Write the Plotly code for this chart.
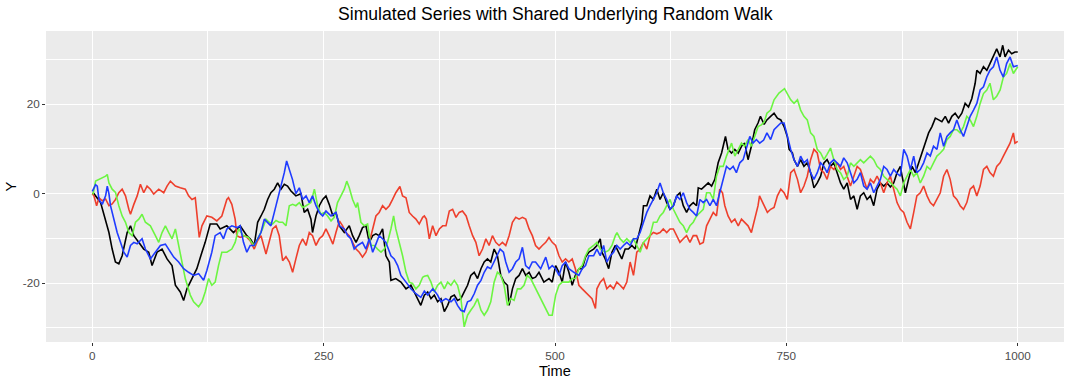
import plotly.graph_objects as go

# Values (time, value) for each series
black_points = [
    (0,0),(1.8,0),(9,-2),(14.4,-5.7),(18,-8.7),(21.5,-12.4),(25,-15.3),(28.7,-15.7),(32.3,-13.9),(37.7,-8.7),
    (41.3,-7.2),(44.9,-9.4),(50.3,-10.9),(55.6,-12.4),(61,-13.1),(64.6,-16.1),(70,-13.1),(75.4,-12.4),(80.8,-14.6),
    (86.2,-16.1),(89.8,-20.5),(95.1,-22),(98.7,-23.9),(102.3,-21.3),(107.7,-19),(113,-16.8),(118.5,-13.1),(122,-10.9),
    (127.4,-6.8),(134.6,-6.8),(138.2,-7.9),(145.4,-7.2),(152.6,-8.7),(159.8,-7.2),(167,-9.4),(171,-10.2),
    (175,-11.6),(178.7,-6.4),(182.3,-5),(185.9,-3.5),(189.5,-1.3),(193,0.2),(196.7,1),(200.3,2.4),(203.9,1),(207.5,2.1),
    (211,1.7),(214.7,0.6),(220,-0.5),(225.5,0),(229,-4.2),(232.7,-3.5),(236.3,-5.7),(238,-8.7),(241.7,-5),(245.3,-2.7),
    (249,-1.3),(252.5,-0.5),(256,-2.4),(260,-5),(263.3,-4.2),(267,-7.2),(272.3,-8.7),(277.7,-7.2),(281.3,-9.4),(285,-10.9),
    (288.5,-9.4),(292,-7.6),(295.7,-7.2),(299.3,-10.9),(303,-9.4),(306.5,-9),(310,-9.4),(313.7,-7.9),(317.3,-13.9),
    (321,-15.3),(322.7,-19.4),(328,-19),(333.5,-19.8),(339,-21.3),(344.3,-20.5),(348,-22),(351.5,-23.5),(355,-25),
    (358.8,-22.7),(362.4,-22),(366,-23.5),(369.6,-22.7),(373.2,-24.2),(376.8,-23.5),(380.4,-26.4),(384,-25),(387.6,-23.1),
    (391.2,-22.7),(394.7,-23.9),(398.3,-23.5),(401.9,-22),(405.5,-20.5),(409,-18.3),(412.7,-17.6),(416.3,-19),(420,-16.8),
    (423.5,-15.3),(427,-14.6),(430.6,-15.3),(434.2,-12.4),(437.8,-13.9),(441.4,-18.3),(445,-19.8),(448.6,-20.5),(450.4,-25),
    (454,-21.3),(457.6,-19),(461.2,-18.3),(464.8,-16.8),(468.4,-18.3),(472,-17.6),(475.5,-19),(479,-18.7),(482.7,-17.6),
    (488,-19.8),(493.5,-19),(497,-19.8),(500.7,-16.1),(504.3,-17.6),(507.8,-19.8),(511.4,-15.3),(515,-17.6),(518.6,-20.5),
    (522,-18.3),(525.8,-16.8),(529.4,-16.8),(533,-14.2),(536.6,-13.1),
    (541.7,-12.4),(545.3,-11.6),(548.9,-10.1),(550.7,-13.1),(554.3,-14.6),(558,-16.8),(561.5,-13.1),(565.2,-11.6),
    (568.6,-13.1),(572.2,-14.6),(575.8,-12.4),(579.4,-12.4),(583,-11.6),(586.6,-12.4),(590.2,-9.4),(593.8,-6.4),
    (595.6,-2.7),(599.2,-2.7),(602.7,-0.5),(606.3,-1.3),(610,1),(613.5,-1.3),(617,0.2),(620.7,-2),(624.3,-3.5),
    (627.9,-2.7),(631.5,-0.5),(635,0.2),(638.6,-2.7),(642.2,-4.2),(645.8,-2.7),(649.4,-2),(653,-2.7),(654.8,1.3),
    (658.4,1),(662,1.7),(665.6,2.4),(669.2,1.7),(672.7,3.2),(676.3,6.9),(680,9.1),(684.2,12.8),(687,9.9),(690.7,9.1),
    (694.3,9.9),(698,9.1),(701.5,10.6),(705,11.3),(708.6,7.6),(712.2,10.6),(715.8,14.3),(719.4,15.8),(722,17.3),
    (726,15.5),(729,16.5),(733,17.3),(736.7,18),(740.3,16.9),(744,16.5),(747.5,15),(751,12.8),(753,9.9),(756.5,9.1),
    (758.3,7.6),(762,6.1),(765.4,7.6),(769,6.1),(772.6,6.9),(776.2,4.7),(779.8,1.3),(783.4,2.4),(787,3.9),(790.6,6.9),
    (794,7.6),(797.7,6.1),(801.3,6.9),(805,4.7),(808.5,2.4),(812,1),(815.7,2.4),(819.3,-1.3),(822.9,-0.5),(826.5,-3.5),
    (830,-0.5),(833.6,0.2),(837.2,-1.3),(840.8,-0.5),(844.4,-2.7),(848,1),(851.6,2.4),(855.2,1.7),(858.8,2.4),(862.4,1.5),
    (866,2.4),(869.6,4.7),(873.2,6.1),(875,4),(878.6,0.2),(882,3.2),(885.8,6.1),(889.4,4.7),(893,6.9),(896.5,9.1),
    (900,11.3),(903.7,13.6),(907.3,15),(911,16.9),(914.6,16.5),(918,16.1),(921.7,17.3),(925.3,15.8),(928.8,17.3),
    (932.4,18),(936,16.9),(939.6,18),(943.2,20.2),(946.8,19.4),(950.4,21.3),(954,24.7),(955.8,27.6),(959.4,26.9),
    (963,28.4),(966.6,27.6),(970,29.1),(973.7,30.6),(977.3,32.4),(980.9,30.6),(983.8,33.2),(986.3,30.6),(990,32.1),
    (993.5,31.3),(997,31.7),(1000,31.7),
]

red_points = [
    (0,0),(1.8,-0.5),(4.7,-2.7),(7.2,-0.9),(10.8,-1.6),(14.4,-1.2),(18,-2.7),(21.5,-2.3),(25.1,-1.3),(28.7,0.2),
    (32.3,1),(35.9,-0.5),(39.5,-3.5),(41.3,-4.6),(44.9,-2.4),(48.5,-0.5),(52,2.1),(55.6,0.2),(59.2,1.7),(62.8,1),
    (66.4,-0.1),(71.8,1),(77.2,0.2),(80.8,1.7),(84.4,2.8),(89.8,1.7),(95.1,1.3),(100.5,1),(104.1,-0.5),(107.7,-1.3),
    (111.3,-0.9),(113,-5),(115.6,-9.8),(118.5,-7.2),(123.8,-5),(129.2,-5.3),(134.6,-6.1),(140,-5),(145.4,-1.3),
    (147.2,-0.9),(150.8,-2.4),(154.4,-5.7),(156.2,-9.4),(159.8,-9.8),(165.2,-9.4),(170.6,-10.5),
    (175,-12.4),(178.7,-10.5),(182.3,-9.4),(187.7,-13.5),(191.2,-10.9),(194.8,-7.9),(198.5,-7.2),(202,-9.4),(205.7,-15),
    (209.3,-14.1),(213,-15.3),(216.5,-17.6),(220,-14.6),(223.7,-11.6),(227.3,-10.1),(231,-11.6),(234.5,-8.7),(238,-9.4),
    (241.7,-11.6),(245.3,-10.1),(249,-9.4),(252.5,-7.9),(256,-9.4),(260,-11.3),(263.3,-8.7),(267,-6.1),(270.5,-7.2),
    (274,-8.7),(277.7,-9.4),(281.3,-10.9),(285,-12.4),(288.5,-13.1),(292,-14.2),(295.7,-13.1),(299.3,-10.9),(303,-7.9),
    (306.5,-5),(310,-4.2),(313.7,-2.7),(317.3,-3.5),(321,-2.7),(324.5,-1.3),(328,0.2),(332.4,1.6),(335.3,-0.5),(339,-0.9),
    (342.5,-4.2),(346,-5),(349.7,-5.7),(353.3,-6.8),(357,-5.3),
    (358.8,-5),(361,-5.7),(364.2,-10.1),(367.8,-7.2),(371.4,-9.4),(375,-7.9),(378.6,-7.2),(382.2,-7.2),(385.8,-3.9),
    (389.4,-3.5),(393,-5.3),(396.5,-4.2),(400,-3.9),(404,-5),(407.3,-7.2),(411,-9.4),(414.5,-10.9),(418,-13.9),
    (421.7,-12.4),(425.3,-10.1),(428.8,-11.6),(432.4,-9.4),(436,-10.9),(439.6,-11.6),(443.2,-10.9),(446.8,-11.6),
    (450.4,-9.4),(454,-6.4),(457.6,-5.3),(461.2,-5.7),(464.8,-5.3),(468.4,-5.7),(472,-7.9),(475.5,-9.4),(479,-11.6),
    (482.7,-12.4),(486.3,-11.6),(490,-10.9),(493.5,-9.8),(497,-10.9),(500.7,-11.6),(504.3,-13.9),(507.8,-15.3),
    (511.4,-14.6),(515,-15.3),(518.6,-14.6),(522,-16.8),(525.8,-20.5),(529.4,-21.3),(533,-22),(536.6,-22.7),
    (540,-23.5),(543.7,-25.7),(545.3,-21.3),(548.9,-19.8),(552.5,-19),(556,-21.3),(559.7,-20.5),(563.3,-21.3),
    (566.8,-19.8),(570.4,-20.5),(574,-21.3),(577.6,-19.8),(581.2,-15.3),(584.8,-18.3),(588.4,-13.1),(592,-12.4),
    (595.6,-10.9),(599.2,-12.4),(602.7,-9.4),(606.3,-8.7),(610,-9),(613.5,-8.7),(617,-7.9),(620.7,-8.7),(624.3,-7.9),
    (627.9,-7.9),(631.5,-9.4),(635,-10.9),(638.6,-10.1),(642.2,-9.4),(645.8,-10.9),(649.4,-9.4),(653,-9.4),(656.6,-11.3),
    (660.2,-10.9),(663.8,-7.2),(667.4,-5.7),(671,-4.2),(674.5,-5),(678,1),(681,0.2),(683.5,-2.7),(687,-5),(690.7,-6.4),
    (694.3,-5.7),(698,-7.2),(701.5,-5.7),(705,-6.4),(708.6,-7.2),(712.2,-8.7),(715.8,-5.7),(719.4,-2.7),(721,-0.5),
    (726,-2.7),(729.5,-4.2),(733,-3.5),(736.7,-3.1),(740.3,-0.5),(744,1),(747.5,0.2),(751,-1.3),(754.7,4.7),(758.3,5.4),
    (762,3.2),(765.4,0.2),(769,1.7),(772.6,3.9),(776.2,7.6),(779.8,9.9),(783.4,9.1),(787,5.4),(790.6,4.7),(794,3.2),
    (797.7,6.1),(801.3,5.4),(805,6.9),(808.5,5.4),(812,6.1),(815.7,3.9),(819.3,1.7),(822.9,3.9),(826.5,6.1),(830,5.4),
    (833.6,3.2),(837.2,1),(840.8,3.2),(844.4,2.4),(848,3.9),(851.6,2.4),(855.2,0.2),(858.8,2.4),(862.4,3.9),
    (866,1),(869.6,-2),(873.2,-3.5),(876.8,-4.2),(880.4,-6.4),(884,-7.9),(887.6,-4.2),(891,-0.5),(894.7,0.2),(898.3,1.7),
    (902,-0.5),(905.5,-2),(909,-2.7),(912.7,-1.3),(916.3,0.2),(919.9,3.9),(923.5,5.4),(927,3.2),(930.6,-0.5),(934.2,-1.3),
    (937.8,-2.7),(941.4,-3.5),(945,-2),(948.6,1),(952.2,1.7),(955.8,-0.5),(959.4,1.7),(963,5.4),(966.6,6.1),(970,4.7),
    (973.7,3.9),(977.3,6.1),(980.9,6.9),(984.5,8.4),(988,9.9),(991.7,11.3),(995.3,13.6),(997,11.3),(1000,11.7),
]

green_points = [
    (0,0),(1,0),(3.6,2.8),(7.2,3.2),(10.8,3.6),(14.4,3.9),(16.2,4.3),(18,2.4),(21.5,1),(25.1,0.3),(28.7,-2.7),
    (32.3,-5),(35.9,-6.4),(39.5,-8.7),(43.1,-9.4),(46.7,-6.4),(50.3,-5.7),(53.8,-4.6),(57.4,-6.4),(62.8,-7.2),
    (68.2,-9.4),(71.8,-10.9),(75.4,-8.7),(79,-7.2),(82.6,-8.7),(86.2,-10.1),(89.8,-7.9),(93.3,-11.6),(96.9,-15.3),
    (100.5,-19),(105.9,-22.7),(109.5,-24.2),(114.9,-25.3),(118.5,-24.2),(122,-22),(125.7,-19),(129.2,-20.5),
    (132.8,-19.8),(136.4,-16.1),(140,-13.1),(145.4,-13.1),(150.8,-12.4),(154.4,-10.9),(158,-7.9),(163.4,-9.4),
    (168.8,-9.8),(172,-10.9),
    (175,-11.6),(178.7,-10.1),(184,-7.9),(187.7,-5.7),(191.2,-6.4),(194.8,-6.8),(198.5,-6),(202,-6.4),(205.7,-6.4),
    (209.3,-7.2),(212.9,-2.7),(216.5,-2.4),(220,-2.7),(223.7,-2),(227.3,-3.1),(231,-2.7),(236.3,-2),(240,1),(243.5,-2.7),
    (247,-4.6),(250.7,-4.2),(254.3,-5),(258,-6.1),(261.5,-5.3),(265,-2),(268.7,-0.5),(272.3,1),(275,2.8),(277.7,1.3),
    (281.3,-1.3),(285,-3.1),(286.7,-2),(290.3,-6.4),(294,-7.2),(297.5,-6.8),(301,-11.6),(304.7,-11.6),(308.3,-12.4),
    (312,-13.1),(315.5,-12.4),(319,-10.9),(322.7,-7.9),(325.6,-5),(328,-7.9),(331.7,-10.9),(335.3,-13.9),(339,-17.6),
    (342.5,-19.8),(346,-20.1),(349.7,-21.3),(353.3,-20.5),(357,-18.7),
    (358.8,-18.5),(362.4,-18.3),(366,-19.8),(369.6,-22),(373.2,-20.5),(376.8,-19.8),(380.4,-21.3),(384,-19.8),
    (387.6,-20.5),(391.2,-19.4),(394.7,-20.5),(398.3,-23.5),(401.9,-29.8),(405.5,-27.2),(409,-26.1),(412.7,-25),
    (416.3,-23.5),(420,-26.1),(423.5,-27.2),(427,-26.1),(430.6,-24.2),(434.2,-19.8),(437.8,-17.6),(441.4,-18.3),
    (445,-20.5),(448.6,-25),(452.2,-23.5),(455.8,-23.9),(459.4,-21.3),(463,-21.3),(466.5,-20.5),(470,-18.3),
    (473.7,-19),(477.3,-20.5),(481,-22),(484.5,-23.5),(490,-25.7),(493.5,-27.2),(497,-27.2),(500.7,-22.7),
    (504.3,-20.5),(507.8,-19.8),(511.4,-19.8),(515,-19.8),(518.6,-19),(522,-19),(525.8,-16.8),(529.4,-16.1),
    (533,-13.9),(536.6,-12.4),
    (541.7,-11.6),(545.3,-10.9),(548.9,-12.4),(554.3,-13.1),(558,-12.7),(561.5,-11.6),(565.2,-9.4),(567,-8.7),
    (570.4,-10.1),(574,-10.9),(577.6,-10.1),(581.2,-10.9),(584.8,-10.1),(588.4,-11.6),(592,-13.1),(595.6,-10.9),
    (599.2,-10.1),(602.7,-9.4),(606.3,-6.4),(610,-6.4),(613.5,-5),(617,-4.2),(620.7,-2.7),(624.3,-1.3),(627.9,-3.5),
    (631.5,-5),(635,-6.4),(638.6,-7.2),(642.2,-8.7),(645.8,-7.2),(649.4,-6.4),(653,-5),(656.6,-4.2),(660.2,-3.5),
    (663.8,0.2),(667.4,0.2),(671,-1.3),(674.5,3.9),(678,6.1),(681.7,6.1),(685.3,8.4),(689,10.6),(690.8,11.3),
    (694.3,8.4),(698,9.9),(701.5,11.3),(705,10.6),(708.6,12.1),(712.2,10.6),(715.8,12.8),(719.4,15),(723,15.4),
    (726,16),(729,18),(733,18.7),(736.7,21),(742,22.5),(748,23.5),(752,22),(754.7,21),(758.3,20.2),(762,21),
    (765.4,18.7),(769,17.3),(772.6,16.5),(776.2,13.6),(779.8,12.8),(783.4,9.9),(787,9.1),(790.6,7.6),(794,8.8),
    (797.7,10.2),(801.3,7.6),(805,5.4),(808.5,4.7),(812,3.2),(815.7,3.9),(819.3,6.9),(822.9,6.1),(826.5,6.9),
    (830,7.6),(833.6,6.9),(837.2,7.6),(840.8,8.4),(844.4,7.6),(848,6.1),(851.6,5.4),(855.2,3.9),(858.8,3.2),(862.4,2.4),
    (866,1.7),(869.6,1),(873.2,-0.5),(876.8,2.4),(880.4,3.9),(884,5.4),(887.6,3.9),(891,4.7),(894.7,2.4),(898.3,3.9),
    (902,6.1),(905.5,5.4),(909,6.9),(912.7,8.4),(916.3,9.1),(919.9,9.9),(923.5,12.1),(927,12.8),(930.6,14.3),
    (934.2,14.3),(937.8,13.6),(941.4,15),(945,17.3),(948.6,16.5),(952.2,15),(955.8,17.3),(959.4,20.2),(963,22.4),
    (966.6,23.2),(970,24.7),(973.7,21),(977.3,21.8),(981,23.2),(984.5,26.1),(988,26.9),(991.7,29.1),(995.3,26.9),
    (1000,28.4),
]

blue_points = [
    (0,0.5),(1,1),(3.6,2),(5.4,1.7),(7.2,-1.3),(10.8,-2.4),(14.4,-0.5),(16.2,1.7),(18,0),(19.7,-2.7),(23.3,-6),
    (26.9,-8.7),(30.5,-10.9),(34.1,-13.1),(37.7,-14.2),(41.3,-11.6),(44.9,-10.9),(48.5,-11.2),(53.8,-10.1),
    (57.4,-12.4),(62.8,-14.6),(68.2,-13.1),(73.6,-11.6),(79,-11.3),(82.6,-12.4),(88,-14.2),(93.3,-15.3),(98.7,-16.8),
    (104.1,-17.6),(109.5,-18.3),(114.9,-17.9),(120.3,-19.4),(123.8,-17.2),(129.2,-13.1),(132.8,-9.4),(138.2,-8.7),
    (141.8,-10.1),(145.4,-7.9),(150.8,-7.2),(156.2,-7.6),(159.8,-7.2),(163.4,-10.9),(167,-13.1),(170.6,-11.6),
    (175,-11.6),(178.7,-10.1),(182.3,-8.7),(185.9,-5.7),(189.5,-6.4),(193,-7.2),(196.7,-4.2),(200.3,-1.3),(203.9,1.7),
    (207.5,4.7),(210,7.3),(213,5.4),(216.3,3.2),(220,0),(223.7,1.3),(227.3,-1.3),(231,-0.5),(234.5,-2),(238,-0.5),
    (241.7,-2.7),(245.3,-4.2),(249,-5),(252.5,-3.9),(258,-5),(263.3,-4.2),(267,-7.2),(272.3,-7.9),(276,-9.4),
    (279.5,-10.1),(283,-12.4),(286.7,-11.6),(292,-10.9),(295.7,-12.4),(299.3,-10.1),(303,-13.1),(306.5,-11.3),
    (310,-9.4),(313.7,-10.1),(317.3,-10.9),(322.7,-13.9),(326.3,-14.6),(330,-16.1),(333.5,-18.3),(339,-19.8),
    (344.3,-21.3),(349.7,-22.4),(355,-23.2),
    (358.8,-21.8),(362.4,-22.7),(368,-21.3),(373.2,-22.7),(376.8,-24.2),(382,-23.5),(387.6,-24.2),(391.2,-23.5),
    (394.7,-25),(398.3,-26.1),(401.9,-26.4),(405.5,-24.2),(409,-23.9),(412.7,-22.4),(416.3,-20.5),(420,-19.4),
    (423.5,-17.6),(427,-16.4),(430.6,-16.8),(434.2,-15.3),(437.8,-13.9),(440.7,-12.4),(444.3,-13.1),(446.8,-15.3),
    (450.4,-17.6),(454,-16.8),(457.6,-15.3),(461.2,-14.6),(464.8,-12),(468.3,-16.1),(472,-16.8),(475.5,-15.3),
    (479,-15.3),(484.5,-16.8),(490,-14.2),(493.5,-16.8),(497,-16.1),(500.7,-16.8),(504.3,-18.3),(507.8,-16.1),
    (511.4,-15.3),(515,-16.8),(520.4,-17.6),(525.8,-18.3),(529.4,-16.8),(533,-16.1),(536.6,-13.9),
    (541.7,-13.9),(545.3,-12.4),(548.9,-13.9),(552.5,-11.6),(556,-15.3),(559.7,-13.9),(563.3,-13.1),(566.8,-11.6),
    (570.4,-12.4),(574,-11.6),(577.6,-10.9),(581.2,-11.6),(584.8,-10.1),(588.4,-10.1),(592,-8.7),(595.6,-6.4),
    (599.2,-4.2),(602.7,-2.7),(606.3,-1.3),(610,0.2),(613.5,2.4),(617,0.2),(620.7,-1.3),(624.3,-3.5),(627.9,-2.7),
    (631.5,-0.5),(635,-1.3),(638.6,0.2),(642.2,-2),(645.8,-3.5),(649.4,-4.2),(653,-5),(656.6,-1.3),(660.2,-2),
    (663.8,-1.3),(667.4,-2.7),(671,-1.3),(674.5,-2.7),(678,0.2),(681.7,3.2),(685.3,6.1),(689,5.4),(692.5,6.1),
    (696,4.7),(699.7,6.9),(703.3,7.6),(707,10.6),(710.5,12.8),(714,11.3),(717.6,12.1),(721.2,11.3),
    (725.5,12),(729,13.6),(733,12.1),(736.7,14.3),(740.3,15),(744,15.8),(747.5,15.8),(751,12.8),(754.7,9.9),
    (758.3,7.6),(762,6.1),(765.4,8.4),(769,6.9),(772.6,7.6),(776.2,4.7),(779.8,3.2),(783.4,4.7),(787,6.9),(790.6,6.1),
    (794,4.7),(797.7,6.9),(801.3,7.6),(805,6.9),(808.5,6.1),(812,8),(815.7,6.9),(819.3,4.7),(822.9,2.4),(826.5,3.2),
    (830,4.7),(833.6,1.7),(837.2,1),(840.8,2.4),(844.4,0.2),(848,1.7),(851.6,3.2),(855.2,6.1),(858.8,5.4),(862.4,3.9),
    (866,5.4),(869.6,4.5),(873.2,3.9),(876.8,9.9),(880.4,8.4),(884,5.4),(887.6,8.4),(891,4.7),(894.7,5.4),(898.3,6.9),
    (902,9.1),(905.5,8.4),(909,10.6),(912.7,9.9),(916.3,13.6),(919.9,10.6),(923.5,12.8),(927,13.6),(930.6,14.3),
    (934.2,16.5),(937.8,14.3),(941.4,12.8),(945,15),(948.6,17.3),(952.2,18.7),(955.8,20.2),(959.4,23.2),(963,23.9),
    (966.5,26.1),(970,27.6),(973.7,28.4),(977.3,30.6),(980.9,27.6),(984.5,26.1),(988,29.1),(991.7,30.6),(995.3,28.4),
    (1000,28.7),
]

x_major_ticks = [0, 250, 500, 750, 1000]
x_minor_ticks = [125, 375, 625, 875]
y_major_ticks = [-20, 0, 20]
y_major_labels = ["-20", "0", "20"]
y_minor_ticks = [-30, -10, 10, 30]

series = [
    ("black", black_points, "#000000"),
    ("red", red_points, "#EE3F2C"),
    ("green", green_points, "#6CF542"),
    ("blue", blue_points, "#1F3BFF"),
]

fig = go.Figure()
for name, pts, color in series:
    fig.add_trace(go.Scatter(
        x=[p[0] for p in pts], y=[p[1] for p in pts], mode="lines", name=name,
        line=dict(color=color, width=1.6), showlegend=False,
    ))

FONT = "Liberation Sans, Arial, Helvetica, sans-serif"

fig.update_layout(
    template="none",
    width=1069, height=380,
    paper_bgcolor="white", plot_bgcolor="#EBEBEB",
    margin=dict(l=46, r=5, t=31, b=38),
    font=dict(family=FONT, color="#000000"),
    annotations=[
        dict(text="Simulated Series with Shared Underlying Random Walk", x=0.5, y=1, xref="paper", yref="paper",
             yshift=17, showarrow=False, xanchor="center", yanchor="middle",
             font=dict(size=17.6, family=FONT, color="black")),
        dict(text="Time", x=0.5, y=0, xref="paper", yref="paper", yshift=-29, showarrow=False,
             xanchor="center", yanchor="middle", font=dict(size=14.6, family=FONT, color="black")),
        dict(text="Y", x=0, y=0.5, xref="paper", yref="paper", xshift=-36, showarrow=False, textangle=-90,
             xanchor="center", yanchor="middle", font=dict(size=14.6, family=FONT, color="black")),
    ],
)

fig.update_xaxes(
    range=[-50, 1050], tickvals=x_major_ticks, ticktext=[str(v) for v in x_major_ticks],
    showgrid=True, gridcolor="white", gridwidth=1.2, zeroline=False, showline=False,
    ticks="outside", ticklen=3, tickwidth=1, tickcolor="#333333",
    tickfont=dict(size=11.7, color="#4D4D4D", family=FONT),
    minor=dict(tickvals=x_minor_ticks, showgrid=True, gridcolor="white", gridwidth=0.6, ticks=""),
)
fig.update_yaxes(
    range=[-33.2, 36.4], tickvals=y_major_ticks, ticktext=y_major_labels,
    showgrid=True, gridcolor="white", gridwidth=1.2, zeroline=False, showline=False,
    ticks="outside", ticklen=3, tickwidth=1, tickcolor="#333333",
    tickfont=dict(size=11.7, color="#4D4D4D", family=FONT),
    minor=dict(tickvals=y_minor_ticks, showgrid=True, gridcolor="white", gridwidth=0.6, ticks=""),
)

fig.write_html("out.html", config={"displayModeBar": False},
               post_script="document.body.style.margin='0';")
